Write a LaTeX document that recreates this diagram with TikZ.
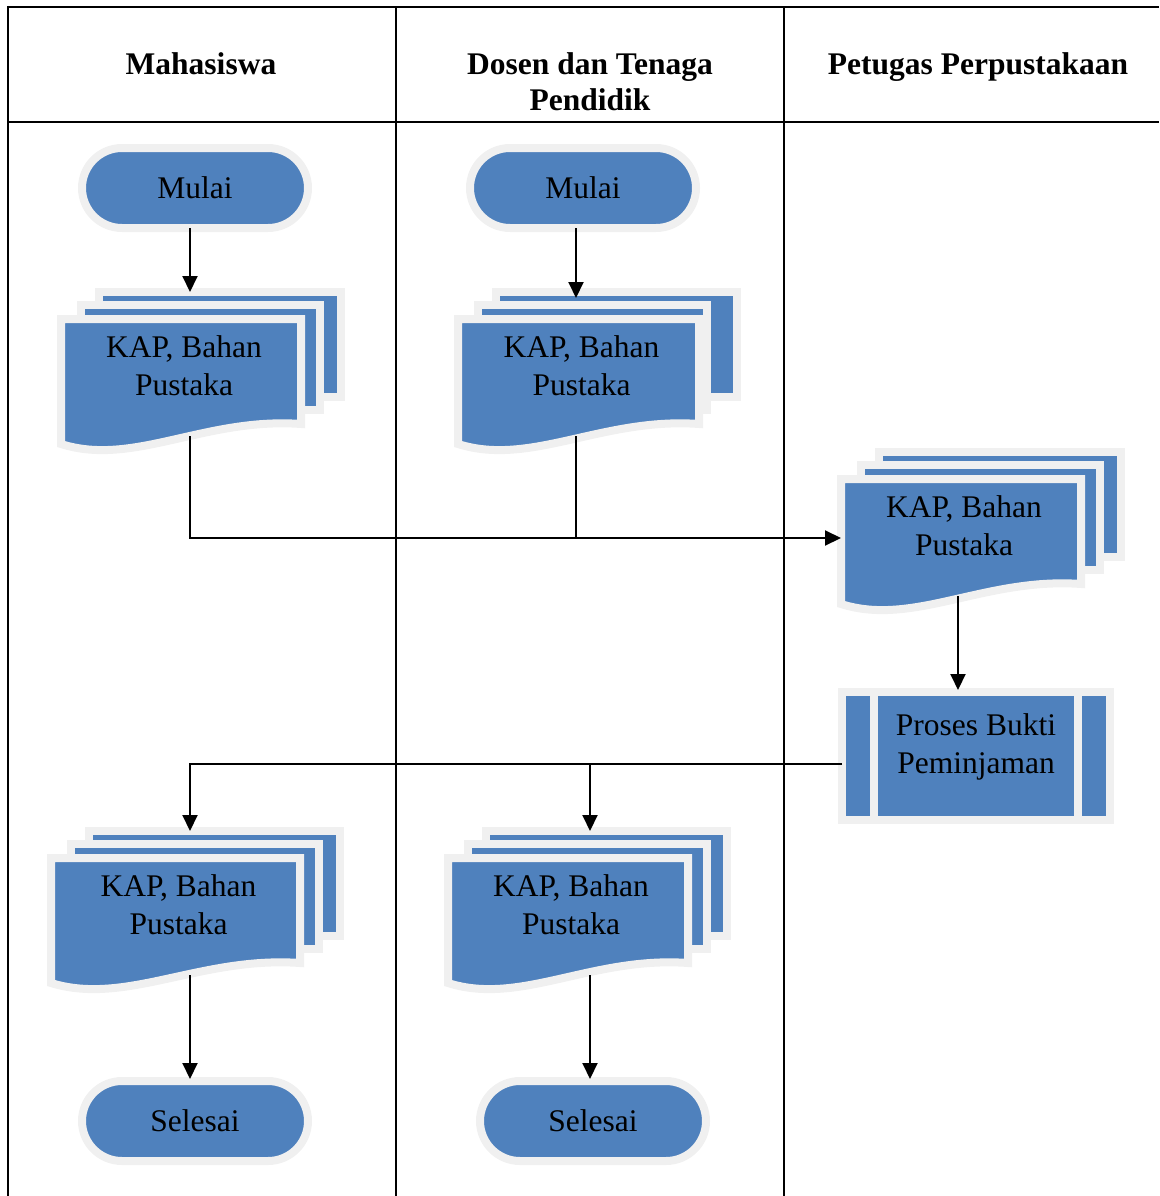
\documentclass[tikz,border=0pt]{standalone}
\usepackage{fontspec}
\setmainfont{Liberation Serif}
\usetikzlibrary{arrows.meta,calc}

\definecolor{shapeblue}{HTML}{4F81BD}
\definecolor{rimgray}{HTML}{F0F0F0}

\tikzset{
  grid/.style={line width=2pt, black},
  conn/.style={line width=2pt, black},
  arr/.style={conn, -{Triangle[length=16pt,width=15pt]}},
  rim/.style={draw=rimgray, fill=shapeblue, line width=8pt, line join=miter},
  txt/.style={align=center, font=\fontsize{31.5}{38}\selectfont, inner sep=0pt},
  head/.style={align=center, font=\bfseries\fontsize{31.5}{36}\selectfont, inner sep=0pt},
  term/.style={rim, rounded corners=40pt, minimum width=226pt, minimum height=80pt,
               inner sep=0pt, outer sep=0pt, font=\fontsize{31.5}{38}\selectfont},
  procbox/.style={rim, minimum width=268pt, minimum height=128pt, inner sep=0pt, outer sep=0pt},
}

% stacked documents: #1 name, #2 left, #3 top, #4 front right,
% #5 second page right, #6 third page right, #7 text
\newcommand\mdoc[7]{%
  \path[rim] (#2+34,#3-31) rectangle (#6+4,#3+74);
  \path[rim] (#2+16,#3-18) rectangle (#5+4,#3+87);
  \path[rim] (#2-4,#3-4) -- (#4+4,#3-4) -- (#4+4,#3+101)
     .. controls ({#2-4+0.6*(#4-#2+8)},#3+94) and ({#2-4+0.3*(#4-#2+8)},#3+144)
     .. (#2-4,#3+121) -- cycle;
  \node[txt] (#1) at ({(#2+#4)/2+3},#3+43) {#7};
  \coordinate (#1-top) at ({(#2+#4)/2},#3-31);
  \coordinate (#1-wave) at ({(#2+#4)/2},#3+113);
  \coordinate (#1-left) at (#2-4,#3+55);
}

\begin{document}
\begin{tikzpicture}[x=1pt,y=-1pt]
\useasboundingbox (0,0) rectangle (1159,1196);

% swimlane table
\draw[grid] (7,7) -- (1159,7);
\draw[grid] (8,6) -- (8,1196);
\draw[grid] (8,122) -- (1159,122);
\draw[grid] (396,7) -- (396,1196);
\draw[grid] (784,7) -- (784,1196);

\node[head] (h1) at (201,64) {Mahasiswa};
\node[head] (h2) at (590,82) {Dosen dan Tenaga\\Pendidik};
\node[head] (h3) at (978,67) {Petugas Perpustakaan};

% connector lanes
\coordinate (xa) at (190,0);
\coordinate (xb) at (576,0);
\coordinate (xc) at (958,0);
\coordinate (xd) at (590,0);

% shapes
\node[term] (mulai1) at (195,188) {Mulai};
\node[term] (mulai2) at (583,188) {Mulai};

\mdoc{d1}{65}{323}{297}{316}{337}{KAP, Bahan\\Pustaka}
\mdoc{d2}{462}{323}{695}{703}{733}{KAP, Bahan\\Pustaka}
\mdoc{d3}{845}{483}{1077}{1096}{1117}{KAP, Bahan\\Pustaka}

\node[procbox] (proc) at (976,756) {};
\draw[draw=rimgray, line width=8pt] ([xshift=31.5pt]proc.north west) -- ([xshift=31.5pt]proc.south west);
\draw[draw=rimgray, line width=8pt] ([xshift=-32pt]proc.north east) -- ([xshift=-32pt]proc.south east);
\node[txt] (proctext) at (976,747) {Proses Bukti\\Peminjaman};

\mdoc{d4}{55}{862}{296}{315}{336}{KAP, Bahan\\Pustaka}
\mdoc{d5}{452}{862}{684}{703}{723}{KAP, Bahan\\Pustaka}

\node[term] (selesai1) at (195,1121) {Selesai};
\node[term] (selesai2) at (593,1121) {Selesai};

% connectors
\coordinate (split) at ([yshift=-8pt]proc.west);
\draw[arr] (xa |- mulai1.south) -- (xa |- d1-top);
\draw[arr] (xb |- mulai2.south) -- ([yshift=-6pt]xb |- d2-top);
\draw[arr] (xa |- d1-wave) -- (xa |- d3-left) -- (d3-left);
\draw[conn] (xb |- d2-wave) -- (xb |- d3-left);
\draw[arr] (xc |- d3-wave) -- ([yshift=2pt]xc |- proc.north);
\draw[arr] (split) -- (xa |- split) -- (xa |- d4-top);
\draw[arr] (xd |- split) -- (xd |- d5-top);
\draw[arr] (xa |- d4-wave) -- ([yshift=2pt]xa |- selesai1.north);
\draw[arr] (xd |- d5-wave) -- ([yshift=2pt]xd |- selesai2.north);
\end{tikzpicture}
\end{document}
